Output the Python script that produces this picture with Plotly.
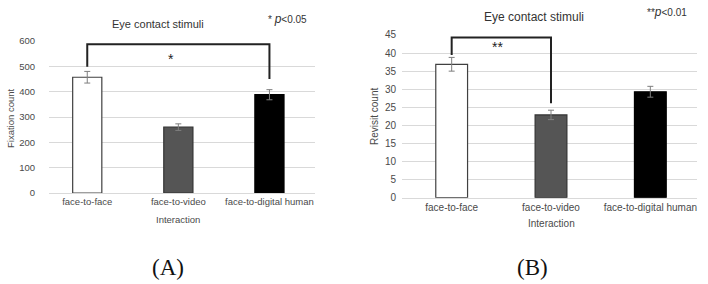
import plotly.graph_objects as go

categories = ["face-to-face", "face-to-video", "face-to-digital human"]
fixation_mean = [457, 260, 388]
fixation_err = [23, 13, 20]
revisit_mean = [36.9, 22.9, 29.3]
revisit_err = [1.9, 1.3, 1.5]
bar_colors = ["#ffffff", "#555555", "#000000"]
bar_lines = ["#404040", "#333333", "#000000"]

fig = go.Figure()
gray = "#4a4a4a"
fontL = dict(family="Liberation Sans, Arial", size=9.5, color=gray)
fontR = dict(family="Liberation Sans, Arial", size=10, color=gray)

fig.add_trace(go.Bar(
    x=categories, y=fixation_mean, width=0.32,
    marker=dict(color=bar_colors, line=dict(color=bar_lines, width=1.2)),
    error_y=dict(type="data", array=fixation_err, color="#7f7f7f", thickness=1, width=3),
    xaxis="x", yaxis="y", showlegend=False))
fig.add_trace(go.Bar(
    x=categories, y=revisit_mean, width=0.32,
    marker=dict(color=bar_colors, line=dict(color=bar_lines, width=1.2)),
    error_y=dict(type="data", array=revisit_err, color="#7f7f7f", thickness=1, width=3),
    xaxis="x2", yaxis="y2", showlegend=False))

axis_common = dict(showgrid=False, ticks="", showline=True, linecolor="#d9d9d9", automargin=False)
yaxis_common = dict(gridcolor="#d9d9d9", gridwidth=1, zeroline=False, ticks="",
                    showline=False, automargin=False)

fig.update_layout(
    width=708, height=284, margin=dict(l=0, r=0, t=0, b=0, autoexpand=False),
    paper_bgcolor="white", plot_bgcolor="white",
    xaxis=dict(domain=[0.0692, 0.4449], range=[-0.42, 2.5], anchor="y", tickfont=fontL,
               **axis_common),
    yaxis=dict(domain=[0.3204, 0.8556], range=[0, 600], dtick=100, anchor="x", tickfont=fontL,
               ticklabelstandoff=13, **yaxis_common),
    xaxis2=dict(domain=[0.5678, 0.9845], range=[-0.5, 2.47], anchor="y2", tickfont=fontR,
                **axis_common),
    yaxis2=dict(domain=[0.3039, 0.8768], range=[0, 45], dtick=5, anchor="x2", tickfont=fontR,
                ticklabelstandoff=5, **yaxis_common),
)

bracket = dict(color="#222222", width=2)
fig.add_shape(type="path", path="M 0,498 L 0,587 L 2,587 L 2,450", xref="x", yref="y", line=bracket)
fig.add_shape(type="path", path="M 0,39.5 L 0,44.3 L 1,44.3 L 1,26.1", xref="x2", yref="y2", line=bracket)

def A(x, y, text, f, xref="paper", yref="paper", **kw):
    d = dict(x=x, y=y, xref=xref, yref=yref, text=text, showarrow=False, font=f,
             xanchor="center", yanchor="middle")
    d.update(kw)
    return d

star_font = dict(family="Liberation Sans, Arial", size=14, color="#222")
title_fontL = dict(family="Liberation Sans, Arial", size=11, color="#333")
title_fontR = dict(family="Liberation Sans, Arial", size=12, color="#333")
p_font = dict(family="Liberation Sans, Arial", size=10, color="#333")
lab_font = dict(family="Liberation Serif", size=23, color="#111")
P = lambda px: 1 - px / 284
X = lambda px: px / 708

ann = [
    A(0.92, 529, "*", star_font, xref="x", yref="y"),
    A(0.46, 41.8, "**", star_font, xref="x2", yref="y2"),
    A(X(158), P(24), "Eye contact stimuli", title_fontL),
    A(X(534), P(17), "Eye contact stimuli", title_fontR),
    A(X(287), P(19), "* <i><span style='font-size:12px'>p</span></i><0.05", p_font),
    A(X(667), P(12), "**<i><span style='font-size:12px'>p</span></i><0.01", p_font),
    A(X(10), P(118), "Fixation count", fontL, textangle=-90),
    A(X(374), P(117), "Revisit count", fontR, textangle=-90),
    A(X(178), P(219), "Interaction", fontL),
    A(X(551), P(223), "Interaction", fontR),
    A(X(168), P(267), "(A)", lab_font),
    A(X(532), P(267), "(B)", lab_font),
]
fig.update_layout(annotations=ann)

fig.write_html("out.html", config={"displayModeBar": False},
               post_script="document.body.style.margin='0';")
